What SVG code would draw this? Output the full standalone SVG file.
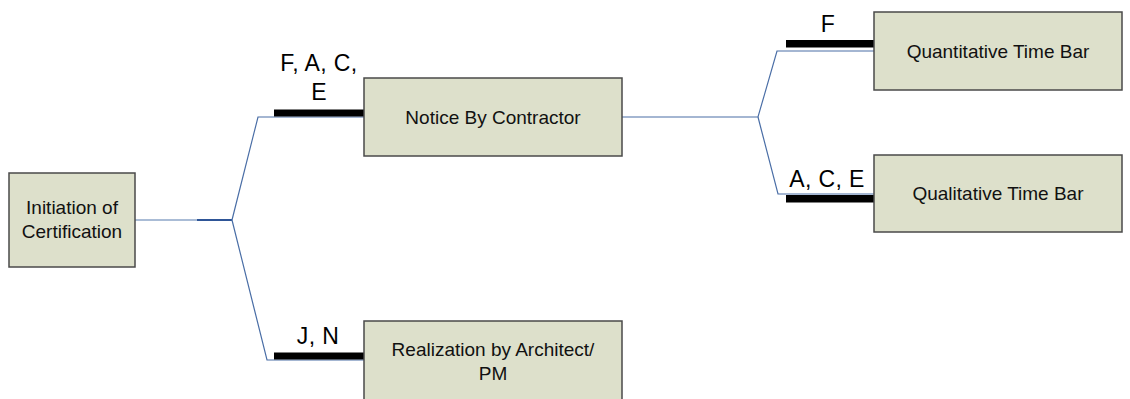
<svg xmlns="http://www.w3.org/2000/svg" width="1130" height="399" viewBox="0 0 1130 399">
  <style>
    .box { fill: #dde0cb; stroke: #4a4a4a; stroke-width: 1.5; }
    .txt { font-family: "Liberation Sans", Arial, sans-serif; font-size: 19px; fill: #111; text-anchor: middle; }
    .lbl { font-family: "Liberation Sans", Arial, sans-serif; font-size: 23px; letter-spacing: 0.4px; fill: #000; text-anchor: middle; }
    .wire { fill: none; stroke: #4a6ea6; stroke-width: 1.2; }
    .wire-light { fill: none; stroke: #8ea6c8; stroke-width: 1.5; }
    .wire-dark { fill: none; stroke: #2e5597; stroke-width: 2.2; }
    .bar { fill: #000; }
  </style>

  <!-- connectors -->
  <g id="connectors">
    <line class="wire-light" x1="135" y1="220" x2="198" y2="220"/>
    <line class="wire-dark" x1="197" y1="220" x2="232" y2="220"/>
    <polyline class="wire" points="232,220 258,117 364,117"/>
    <polyline class="wire" points="232,220 267,360 364,360"/>
    <rect class="bar" x="274" y="109.5" width="90" height="7"/>
    <rect class="bar" x="274" y="352.5" width="90" height="7"/>

    <polyline class="wire" points="622,117 758,117 777,51 874,51"/>
    <polyline class="wire" points="758,117 778,194 874,194"/>
    <rect class="bar" x="786" y="40" width="88" height="7.5"/>
    <rect class="bar" x="786" y="195" width="88" height="7.5"/>

    <text class="lbl" x="319" y="71">F, A, C,</text>
    <text class="lbl" x="319" y="100">E</text>
    <text class="lbl" x="318" y="344">J, N</text>
    <text class="lbl" x="828" y="32">F</text>
    <text class="lbl" x="827" y="187">A, C, E</text>
  </g>

  <g id="initiation">
    <rect class="box" x="9" y="173" width="126" height="94"/>
    <text class="txt" x="72" y="214">Initiation of</text>
    <text class="txt" x="72" y="238">Certification</text>
  </g>

  <g id="notice">
    <rect class="box" x="364" y="78" width="258" height="78"/>
    <text class="txt" x="493" y="124">Notice By Contractor</text>
  </g>

  <g id="realization">
    <rect class="box" x="364" y="321" width="258" height="82"/>
    <text class="txt" x="493" y="356">Realization by Architect/</text>
    <text class="txt" x="493" y="380">PM</text>
  </g>

  <g id="quantitative">
    <rect class="box" x="874" y="12" width="248" height="78"/>
    <text class="txt" x="998" y="58">Quantitative Time Bar</text>
  </g>

  <g id="qualitative">
    <rect class="box" x="874" y="155" width="248" height="77"/>
    <text class="txt" x="998" y="200">Qualitative Time Bar</text>
  </g>
</svg>
